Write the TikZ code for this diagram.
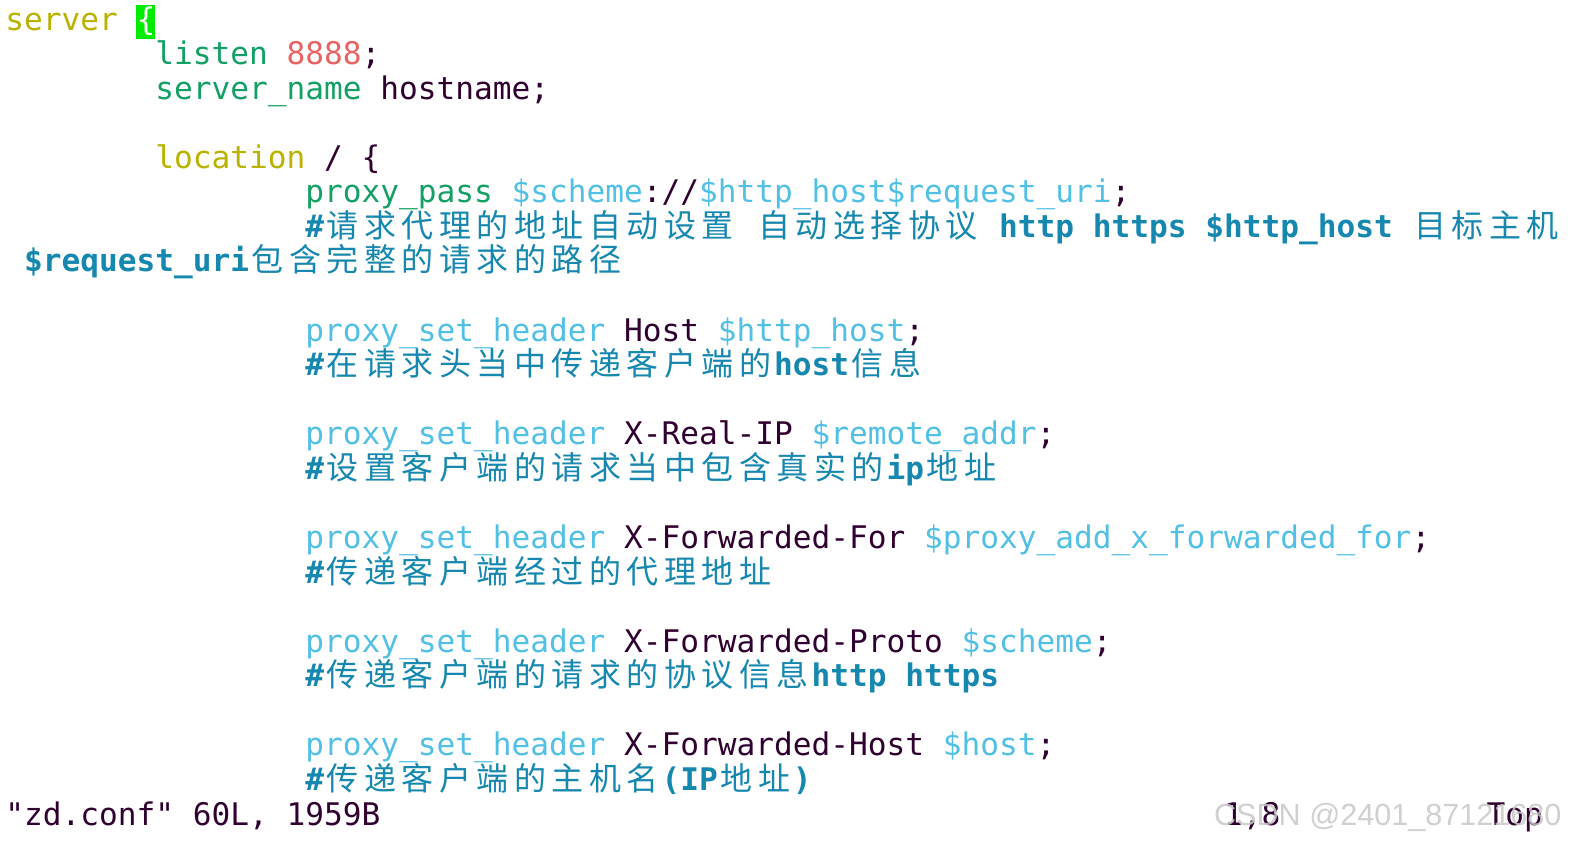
\documentclass[tikz,border=0pt]{standalone}
\usepackage{fontspec}
\usepackage{tikz}
\setmonofont{DejaVu Sans Mono}
\newfontfamily\zhfont{Noto Sans CJK SC}
\newfontfamily\markfont{Liberation Sans}

\definecolor{vimstmt}{RGB}{185,178,0}
\definecolor{vimkey}{RGB}{20,160,100}
\definecolor{vimnum}{RGB}{232,100,100}
\definecolor{vimtext}{RGB}{48,0,48}
\definecolor{vimvar}{RGB}{82,192,228}
\definecolor{vimcmt}{RGB}{22,135,175}
\definecolor{vimcursor}{RGB}{0,235,0}

% one CJK glyph takes two cells
\def\zhend{}
\newcommand\zh[1]{\zhloop#1\zhend}
\def\zhloop#1{\ifx#1\zhend\else\makebox[18.75pt][c]{\zhfont\mdseries\fontsize{16}{17}\selectfont#1}\expandafter\zhloop\fi}
\newcommand\codesize{\fontsize{15.57}{17.285}\selectfont}

\tikzset{
  code/.style={anchor=base west, inner sep=0pt, text=vimtext, font=\ttfamily\codesize},
  cmt/.style={code, text=vimcmt, font=\ttfamily\bfseries\codesize},
  wmark/.style={anchor=base east, inner sep=0pt, text={rgb,255:red,200;green,200;blue,200}, opacity=0.85, font=\markfont\fontsize{15.3}{17}\selectfont}
}

\begin{document}
\begin{tikzpicture}[x=9.375pt,y=-17.285pt]
\fill[white] (-0.2667,-0.868) rectangle (84.533,23.865);
\useasboundingbox (-0.2667,-0.868) rectangle (84.533,23.865);
% server block
\node[code] (srv) at (0,0) {\textcolor{vimstmt}{server}};
\fill[vimcursor] (7,-0.72) rectangle (8,0.26);
\node[code,text=white] (brace) at (7,0) {\{};
\node[code] (lsn) at (8,1) {\textcolor{vimkey}{listen} \textcolor{vimnum}{8888};};
\node[code] (sname) at (8,2) {\textcolor{vimkey}{server\_name} hostname;};
\node[code] (loc) at (8,4) {\textcolor{vimstmt}{location} / \{};
% location block
\node[code] (ppass) at (16,5) {\textcolor{vimkey}{proxy\_pass} \textcolor{vimvar}{\$scheme}://\textcolor{vimvar}{\$http\_host\$request\_uri};};
\node[cmt] (cpass) at (16,6) {\#\zh{请求代理的地址自动设置} \zh{自动选择协议} http https \$http\_host \zh{目标主机}};
\node[cmt] (curi) at (1,7) {\$request\_uri\zh{包含完整的请求的路径}};
\node[code] (hhost) at (16,9) {\textcolor{vimvar}{proxy\_set\_header} Host \textcolor{vimvar}{\$http\_host};};
\node[cmt] (chost) at (16,10) {\#\zh{在请求头当中传递客户端的}host\zh{信息}};
\node[code] (hreal) at (16,12) {\textcolor{vimvar}{proxy\_set\_header} X-Real-IP \textcolor{vimvar}{\$remote\_addr};};
\node[cmt] (creal) at (16,13) {\#\zh{设置客户端的请求当中包含真实的}ip\zh{地址}};
\node[code] (hfor) at (16,15) {\textcolor{vimvar}{proxy\_set\_header} X-Forwarded-For \textcolor{vimvar}{\$proxy\_add\_x\_forwarded\_for};};
\node[cmt] (cfor) at (16,16) {\#\zh{传递客户端经过的代理地址}};
\node[code] (hproto) at (16,18) {\textcolor{vimvar}{proxy\_set\_header} X-Forwarded-Proto \textcolor{vimvar}{\$scheme};};
\node[cmt] (cproto) at (16,19) {\#\zh{传递客户端的请求的协议信息}http https};
\node[code] (hfhost) at (16,21) {\textcolor{vimvar}{proxy\_set\_header} X-Forwarded-Host \textcolor{vimvar}{\$host};};
\node[cmt] (cfhost) at (16,22) {\#\zh{传递客户端的主机名}(IP\zh{地址})};
% status line
\node[code] (msg) at (0,23) {"zd.conf" 60L, 1959B};
\node[code] (pos) at (65,23) {1,8};
\node[code] (top) at (79,23) {Top};
\node[wmark] (wm) at (83.04,23) {CSDN @2401\_87121680};
\end{tikzpicture}
\end{document}
